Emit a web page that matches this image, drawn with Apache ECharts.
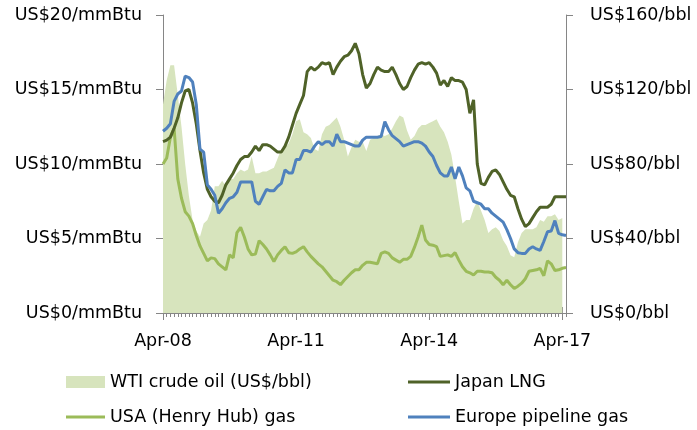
<!DOCTYPE html>
<html><head><meta charset="utf-8">
<script src="https://cdn.jsdelivr.net/npm/echarts@6/dist/echarts.min.js"></script>
<style>html,body{margin:0;padding:0;background:#fff}#c{width:697px;height:430px}</style>
</head><body><div id="c"></div>
<script>
// Monthly categories Apr-08 .. May-17
const monthNames = ['Jan','Feb','Mar','Apr','May','Jun','Jul','Aug','Sep','Oct','Nov','Dec'];
const categories = [];
for (let k = 0; k < 110; k++) {
  const m = (3 + k) % 12, y = 2008 + Math.floor((3 + k) / 12);
  categories.push(monthNames[m] + '-' + String(y).slice(2));
}

// WTI crude oil, US$/bbl (right axis)
const wtiOil = [112,125,133,133,117,100,80,63,50,44,41,48,50,55,68,68,71,68,72,72,
  75,77,76,77,84,75,75,76,76,77,78,83,88,89,91,96,103,104,97,96,
  94,88,87,96,100,101,103,105,100,93,84,89,93,92,92,87,93,94,95,96,
  95,96,99,103,106,105,98,93,95,99,101,101,102,103,104,100,97,92,85,73,
  60,48,50,50,56,60,55,50,43,45,46,44,39,36,31,30,38,43,45,45,
  45,46,50,49,52,52,53,50,51,'-'];

// Japan LNG, US$/mmBtu
const japanLng = [11.5,11.6,11.8,12.4,13.1,14.1,14.9,15.0,14.1,12.7,10.9,9.4,8.3,7.8,7.5,7.4,7.9,8.6,9.0,9.4,
  9.9,10.3,10.5,10.5,10.8,11.2,10.9,11.3,11.3,11.2,11.0,10.8,10.8,11.2,11.8,12.6,13.4,14.0,14.6,16.2,
  16.5,16.3,16.5,16.8,16.7,16.8,16.0,16.5,16.9,17.2,17.3,17.6,18.1,17.4,16.0,15.1,15.4,16.0,16.5,16.3,
  16.2,16.2,16.5,16.0,15.4,15.0,15.2,15.8,16.3,16.7,16.8,16.7,16.8,16.5,16.1,15.3,15.6,15.2,15.8,15.6,
  15.6,15.5,15.0,13.4,14.3,10.0,8.7,8.6,9.1,9.5,9.6,9.3,8.8,8.3,7.9,7.8,7.0,6.3,5.8,6.0,
  6.4,6.8,7.1,7.1,7.1,7.3,7.8,7.8,7.8,7.8];

// USA (Henry Hub) gas, US$/mmBtu
const usaHenryHub = [10.0,10.4,11.8,12.4,9.0,7.7,6.8,6.5,6.0,5.2,4.5,4.0,3.5,3.7,3.65,3.3,3.1,2.9,3.9,3.7,
  5.4,5.75,5.1,4.3,3.9,3.95,4.85,4.6,4.3,3.9,3.45,3.9,4.2,4.45,4.05,4.0,4.1,4.3,4.45,4.1,
  3.8,3.55,3.3,3.1,2.8,2.5,2.2,2.1,1.9,2.2,2.45,2.7,2.9,2.9,3.2,3.4,3.4,3.35,3.3,4.0,
  4.1,4.0,3.7,3.55,3.4,3.6,3.6,3.8,4.4,5.1,5.9,4.9,4.6,4.55,4.45,3.8,3.85,3.9,3.8,4.05,
  3.55,3.1,2.8,2.7,2.55,2.8,2.8,2.75,2.75,2.7,2.4,2.2,1.9,2.2,1.9,1.65,1.8,2.0,2.3,2.8,
  2.85,2.9,3.0,2.5,3.5,3.3,2.85,2.9,3.0,3.05];

// Europe pipeline gas, US$/mmBtu
const europePipeline = [12.2,12.4,12.7,14.2,14.7,14.9,15.9,15.8,15.5,14.0,11.0,10.8,8.6,8.3,7.9,6.7,7.0,7.4,7.7,7.8,
  8.1,8.8,8.8,8.8,8.8,7.5,7.3,7.8,8.3,8.2,8.2,8.5,8.7,9.6,9.4,9.4,10.3,10.3,10.9,10.9,
  10.8,11.2,11.5,11.3,11.5,11.5,11.2,12.0,11.5,11.5,11.4,11.3,11.2,11.2,11.6,11.8,11.8,11.8,11.8,11.85,
  12.85,12.3,11.9,11.7,11.5,11.2,11.3,11.4,11.5,11.5,11.4,11.2,10.8,10.5,9.9,9.4,9.2,9.2,9.8,9.0,
  9.8,9.2,8.4,8.2,7.5,7.4,7.3,7.0,7.0,6.7,6.5,6.3,6.1,5.6,5.0,4.3,4.05,4.0,4.0,4.3,
  4.45,4.3,4.2,4.8,5.45,5.5,6.2,5.35,5.25,5.2];

const FONT = 'DejaVu Sans';
const FS = 17.5;
const AXIS_COLOR = '#868686';
const COLORS = {wti: '#d7e4bd', usa: '#9bbb59', japan: '#4f6228', europe: '#4f81bd'};

const chart = echarts.init(document.getElementById('c'), null, {renderer: 'canvas'});
const txt = {fontFamily: FONT, fontSize: FS, color: '#000'};
const everyThreeYears = function (idx) { return idx % 36 === 0; };

function legendItem(name, left, top, isArea, width, color) {
  return {
    data: [{name: name, icon: 'rect', itemStyle: {color: color}}],
    orient: 'horizontal', left: left, top: top,
    itemWidth: width, itemHeight: isArea ? 12 : 3,
    selectedMode: false, padding: 0,
    textStyle: Object.assign({lineHeight: 20}, txt)
  };
}

chart.setOption({
  animation: false,
  backgroundColor: '#fff',
  grid: {left: 163, right: 131, top: 15, bottom: 117, containLabel: false},
  legend: [
    legendItem('WTI crude oil (US$/bbl)', 66, 372, true, 39, COLORS.wti),
    legendItem('USA (Henry Hub) gas', 66, 407, false, 39, COLORS.usa),
    legendItem('Japan LNG', 408, 372, false, 42, COLORS.japan),
    legendItem('Europe pipeline gas', 408, 407, false, 42, COLORS.europe)
  ],
  xAxis: [
    {
      type: 'category', data: categories, boundaryGap: false, position: 'bottom',
      axisLine: {lineStyle: {color: AXIS_COLOR, width: 1}},
      axisTick: {show: true, interval: 0, length: 4, lineStyle: {color: AXIS_COLOR}},
      axisLabel: Object.assign({interval: everyThreeYears, margin: 19}, txt),
      splitLine: {show: false}
    },
    {
      type: 'category', data: categories, boundaryGap: false, position: 'bottom',
      axisLine: {show: false},
      axisTick: {show: true, interval: everyThreeYears, length: 7, lineStyle: {color: AXIS_COLOR}},
      axisLabel: {show: false}, splitLine: {show: false}
    },
    {
      type: 'category', data: categories, boundaryGap: false, position: 'bottom',
      axisLine: {show: false},
      axisTick: {show: true, inside: true, interval: everyThreeYears, length: 6, lineStyle: {color: AXIS_COLOR}},
      axisLabel: {show: false}, splitLine: {show: false}
    }
  ],
  yAxis: [
    {
      type: 'value', min: 0, max: 20, interval: 5, position: 'left',
      axisLine: {show: true, lineStyle: {color: AXIS_COLOR}},
      axisTick: {show: true, length: 7, lineStyle: {color: AXIS_COLOR}},
      splitLine: {show: false},
      axisLabel: Object.assign({formatter: 'US${value}/mmBtu', margin: 21}, txt)
    },
    {
      type: 'value', min: 0, max: 160, interval: 40, position: 'right',
      axisLine: {show: true, lineStyle: {color: AXIS_COLOR}},
      axisTick: {show: true, length: 7, lineStyle: {color: AXIS_COLOR}},
      splitLine: {show: false},
      axisLabel: Object.assign({formatter: 'US${value}/bbl', margin: 24}, txt)
    }
  ],
  series: [
    {
      name: 'WTI crude oil (US$/bbl)', type: 'line', yAxisIndex: 1, data: wtiOil,
      symbol: 'none', lineStyle: {width: 0, color: COLORS.wti},
      itemStyle: {color: COLORS.wti}, areaStyle: {color: COLORS.wti, opacity: 1}, z: 1
    },
    {
      name: 'USA (Henry Hub) gas', type: 'line', data: usaHenryHub, symbol: 'none',
      lineStyle: {width: 3, color: COLORS.usa}, itemStyle: {color: COLORS.usa}, z: 2
    },
    {
      name: 'Japan LNG', type: 'line', data: japanLng, symbol: 'none',
      lineStyle: {width: 3, color: COLORS.japan}, itemStyle: {color: COLORS.japan}, z: 3
    },
    {
      name: 'Europe pipeline gas', type: 'line', data: europePipeline, symbol: 'none',
      lineStyle: {width: 3, color: COLORS.europe}, itemStyle: {color: COLORS.europe}, z: 4
    }
  ]
});
</script>
</body></html>
